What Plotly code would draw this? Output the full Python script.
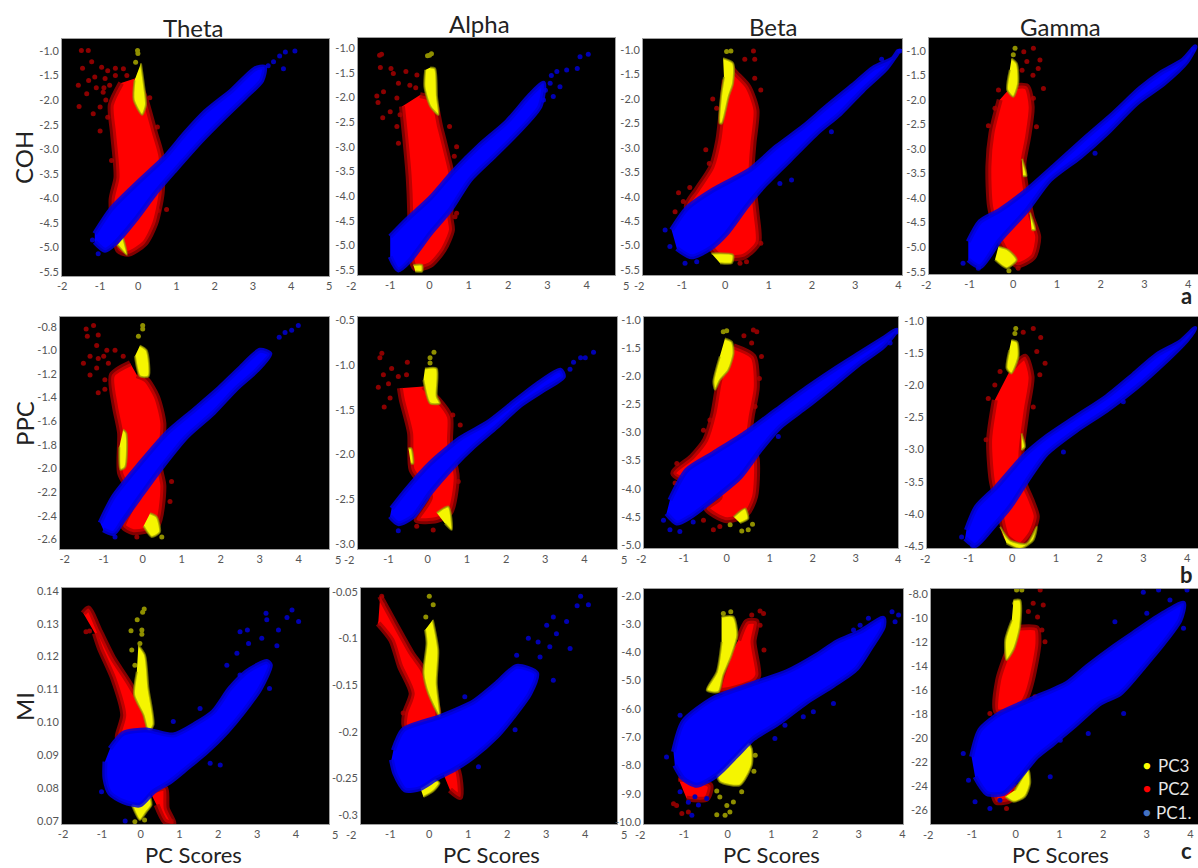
import plotly.graph_objects as go

# ---- Values: (PC score, measure) ----
N = (None, None)
COH_THETA_PC1 = [(-1.14,-4.72),(-.7,-4.21),(0,-3.67),(.7,-3.16),(1.22,-2.68),(1.75,-2.24),(2.45,-1.8),(3.06,-1.36),(3.3,-1.33),(3.23,-1.6),(2.8,-1.94),(2.27,-2.34),(1.66,-2.82),(.96,-3.43),(.44,-3.9),(-.09,-4.45),(-.61,-4.92),(-.87,-5.06),(-1.14,-4.89)]
COH_THETA_PC1_S = [(4.1,-1.0),(3.85,-1.02),(3.54,-1.22),(3.8,-1.36),(3.7,-1.1),(3.4,-1.3),(-1.05,-5.13),(-1.2,-4.85)]
COH_THETA_PC2 = [(-.05,-1.55),(.17,-1.94),(.44,-2.68),(.61,-3.16),(.61,-3.9),(.44,-4.52),(.17,-4.92),(-.26,-5.13),(-.52,-5.06),(-.7,-4.04),(-.57,-3.57),(-.66,-2.68),(-.72,-2.1),(-.45,-1.65)]
COH_THETA_PC2_S = [(-1.49,-.99),(-1.31,-.99),(-1.22,-1.22),(-1.46,-1.35),(-.96,-1.33),(-1.14,-1.53),(-.87,-1.56),(-1.57,-1.7),(-1.35,-1.87),(-.92,-1.84),(-1.55,-2.13),(-1.18,-2.28),(-1.0,-2.14),(-1.0,-2.63),(-.7,-3.23),(.74,-4.23),(.52,-4.25),(-.39,-1.36),(-.8,-1.4),(-.6,-1.35),(-1.1,-1.75),(-1.3,-1.6),(.3,-1.95),(.5,-2.55),(-.75,-1.7),(-.6,-1.5),(-.85,-2.0),(-.3,-1.5),(-.9,-1.75),(-.8,-2.35)]
COH_THETA_PC3 = [(.07,-1.25),(.15,-1.7),(.2,-2.1),(.1,-2.3),(-.12,-2.0),(-.1,-1.6),N,(-.55,-4.95),(-.3,-5.15),(-.4,-4.8)]
COH_THETA_PC3_S = [(-.02,-.99),(-.01,-1.05),(-.07,-1.23)]

COH_ALPHA_PC1 = [(-1.0,-4.82),(-.58,-4.48),(.02,-4.04),(.61,-3.5),(1.29,-2.96),(1.97,-2.49),(2.56,-1.95),(2.9,-1.71),(2.81,-2.18),(2.22,-2.73),(1.63,-3.2),(1.03,-3.67),(.53,-4.28),(.02,-4.76),(-.49,-5.3),(-.79,-5.5),(-1.0,-5.23)]
COH_ALPHA_PC1_S = [(4.04,-1.12),(3.83,-1.17),(3.76,-1.41),(3.49,-1.44),(3.24,-1.47),(3.32,-1.78),(3.07,-1.71),(3.15,-1.98),(2.9,-2.05),(3.1,-1.55),(2.95,-1.85)]
COH_ALPHA_PC2 = [(-.24,-1.95),(.1,-2.05),(.27,-2.59),(.44,-3.13),(.57,-3.6),(.53,-4.42),(.57,-4.69),(.36,-5.09),(.02,-5.4),(-.36,-5.47),(-.49,-5.16),(-.49,-4.35),(-.53,-3.6),(-.62,-2.79),(-.7,-2.18)]
COH_ALPHA_PC2_S = [(-1.27,-1.14),(-1.22,-1.12),(-1.25,-1.39),(-.98,-1.41),(-.92,-1.51),(-.6,-1.47),(-.79,-1.71),(-.32,-1.54),(-1.34,-1.97),(-1.17,-1.88),(-1.31,-2.1),(-1.19,-2.41),(-1,-2.29),(-.83,-2.01),(-.75,-2.35),(-.83,-2.59),(-.79,-2.93),(.51,-2.59),(.69,-3.0),(.63,-3.19),(.65,-4.42),(.69,-4.35),(-.5,-1.75),(-.35,-1.8)]
COH_ALPHA_PC3 = [(.02,-1.39),(.14,-1.41),(.19,-1.98),(.23,-2.35),(.02,-2.18),(-.13,-1.78),(-.11,-1.44),N,(-.41,-5.4),(-.19,-5.4),(-.19,-5.53),(-.36,-5.53)]
COH_ALPHA_PC3_S = [(0,-1.14),(.05,-1.11),(-.05,-1.15)]

COH_BETA_PC1 = [(-1.24,-4.68),(-.89,-4.24),(-.28,-3.86),(.57,-3.45),(1.18,-2.98),(1.8,-2.57),(2.34,-2.16),(2.95,-1.72),(3.42,-1.37),(3.88,-1.17),(3.99,-1.03),(3.72,-1.37),(3.18,-1.82),(2.65,-2.3),(2.11,-2.7),(1.49,-3.25),(.88,-3.79),(.49,-4.2),(.03,-4.75),(-.35,-5.06),(-.78,-5.23),(-1.12,-5.06)]
COH_BETA_PC1_S = [(4.03,-1.02),(3.61,-1.19),(-1.39,-4.68),(-1.28,-5.02),(-.93,-5.36),(-.66,-5.33),(1.53,-3.66),(1.26,-3.73),(2.45,-2.67)]
COH_BETA_PC2 = [(.11,-1.27),(.18,-1.41),(.53,-1.75),(.72,-2.23),(.65,-2.91),(.61,-3.45),(.72,-4.34),(.76,-4.95),(.42,-5.23),(-.12,-5.23),(-.35,-5.02),(-.89,-4.2),(-.66,-3.86),(-.32,-3.39),(-.16,-2.84),(-.08,-2.23),(-.01,-1.61)]
COH_BETA_PC2_S = [(.65,-1.02),(.45,-1.19),(.68,-1.19),(.68,-1.58),(.82,-1.82),(-.29,-2.0),(-.2,-2.19),(-.45,-3.04),(-.37,-3.32),(-1.08,-3.92),(-.82,-3.81),(-1.16,-4.31),(-.97,-4.1),(.49,-5.33),(.34,-5.36),(.82,-4.95)]
COH_BETA_PC3 = [(-.05,-1.17),(.18,-1.27),(.18,-1.68),(.08,-1.95),(-.08,-2.5),(-.13,-2.5),(-.1,-1.95),(-.03,-1.55),N,(-.32,-5.16),(.18,-5.19),(.15,-5.36),(-.12,-5.36)]
COH_BETA_PC3_S = [(.03,-1.03),(.13,-1.02)]

COH_GAMMA_PC1 = [(-1.03,-4.89),(-.76,-4.48),(-.31,-4.25),(.31,-3.84),(.92,-3.36),(1.68,-2.75),(2.29,-2.28),(2.9,-1.77),(3.36,-1.46),(3.89,-1.19),(4.16,-.92),(3.97,-1.22),(3.44,-1.67),(2.82,-2.07),(2.14,-2.68),(1.53,-3.16),(.84,-3.63),(.31,-4.25),(-.31,-4.86),(-.76,-5.4),(-1.03,-5.26)]
COH_GAMMA_PC1_S = [(4.12,-.97),(-.8,-5.43),(-1.15,-5.33),(1.87,-3.09)]
COH_GAMMA_PC2 = [(-.04,-1.73),(.31,-1.73),(.42,-2.14),(.34,-2.75),(.23,-3.3),(.27,-3.7),(.42,-4.38),(.57,-4.79),(.46,-5.2),(.08,-5.37),(-.31,-4.86),(-.53,-4.18),(-.57,-3.36),(-.5,-2.68),(-.31,-2.0)]
COH_GAMMA_PC2_S = [(.24,-1.02),(.46,-.95),(.61,-1.19),(.31,-1.22),(.57,-1.36),(.69,-1.77),(.46,-1.97),(.53,-2.55),(-.57,-2.53),(-.42,-2.17),(-.34,-1.8),(.11,-5.43),(.45,-1.5),(.2,-1.4)]
COH_GAMMA_PC3 = [(-.04,-1.16),(.08,-1.26),(.11,-1.67),(0,-1.94),(-.14,-1.8),(-.08,-1.39),N,(-.34,-4.99),(-.11,-5.06),(.08,-5.26),(-.15,-5.43),(-.42,-5.26),N,(.2,-3.2),(.3,-3.55),(.22,-3.55),N,(.38,-4.3),(.5,-4.65),(.42,-4.65)]
COH_GAMMA_PC3_S = [(.04,-.95),(.0,-1.08),(-.1,-5.48)]

PPC_THETA_PC1 = [(-1.09,-2.46),(-.75,-2.24),(-.07,-1.96),(.62,-1.7),(1.3,-1.51),(1.9,-1.34),(2.5,-1.15),(3.01,-1.0),(3.26,-1.03),(2.92,-1.17),(2.41,-1.32),(1.81,-1.53),(1.13,-1.73),(.44,-2.01),(-.07,-2.24),(-.5,-2.44),(-.75,-2.55),(-1.01,-2.52)]
PPC_THETA_PC1_S = [(3.99,-.79),(3.82,-.83),(3.5,-.89),(-.71,-2.58),(3.65,-.85)]
PPC_THETA_PC2 = [(-.15,-1.21),(.1,-1.25),(.36,-1.39),(.53,-1.62),(.44,-1.99),(.53,-2.15),(.36,-2.49),(-.24,-2.54),(-.5,-2.49),(-.24,-2.27),(-.58,-2.04),(-.58,-1.7),(-.71,-1.48),(-.79,-1.21),(-.32,-1.11)]
PPC_THETA_PC2_S = [(-1.45,-.82),(-1.26,-.79),(-1.42,-.88),(-1.14,-.87),(-1.18,-.96),(-1.52,-1.11),(-1.35,-1.05),(-1.14,-1.07),(-.92,-1),(-.71,-1),(-1.18,-1.15),(-1.35,-1.21),(-.88,-1.11),(-.97,-1.25),(-1.14,-1.36),(-.97,-1.33),(-.67,-1.41),(.7,-2.28),(.74,-2.11),(-.15,-2.58),(-.5,-1.05),(-1,-1.05)]
PPC_THETA_PC3 = [(-.07,-.96),(.1,-1),(.15,-1.22),(-.07,-1.22),(-.2,-1.05),N,(-.5,-1.67),(-.42,-1.7),(-.45,-1.99),(-.57,-2.01),(-.6,-1.82),N,(.19,-2.38),(.36,-2.41),(.44,-2.54),(.23,-2.58),(.02,-2.49)]
PPC_THETA_PC3_S = [(0,-.79),(0,-.82),(-.11,-.88),(.49,-2.58)]

PPC_ALPHA_PC1 = [(-.92,-2.6),(-.54,-2.39),(.06,-2.1),(.83,-1.82),(1.51,-1.65),(2.1,-1.45),(2.78,-1.22),(3.38,-1.06),(3.46,-1.13),(2.95,-1.28),(2.36,-1.45),(1.76,-1.69),(1.17,-1.91),(.66,-2.13),(.06,-2.43),(-.37,-2.69),(-.75,-2.77),(-.96,-2.69)]
PPC_ALPHA_PC1_S = [(4.23,-.86),(4.02,-.92),(3.72,-.97),(3.63,-1.05),(-.75,-2.85),(3.9,-.92)]
PPC_ALPHA_PC2 = [(-.11,-1.24),(.27,-1.39),(.57,-1.58),(.57,-1.87),(.74,-2.25),(.57,-2.65),(.23,-2.73),(-.28,-2.73),(.06,-2.47),(-.41,-2.17),(-.45,-1.76),(-.66,-1.39),(-.71,-1.26)]
PPC_ALPHA_PC2_S = [(-1.17,-.87),(-1.22,-.92),(-.52,-.97),(-.92,-1.04),(-1.13,-1.11),(-1,-1.21),(-.54,-1.11),(-1.26,-1.25),(-.96,-1.37),(-1.11,-1.47),(-.75,-1.13),(.64,-1.56),(.83,-1.67),(.78,-2.3),(-.28,-2.8),(.14,-2.84)]
PPC_ALPHA_PC3 = [(-.07,-1.04),(.23,-1.04),(.23,-1.35),(.31,-1.43),(.06,-1.43),(-.11,-1.17),N,(.23,-2.65),(.53,-2.58),(.61,-2.84),(.44,-2.77),N,(-.49,-1.93),(-.42,-1.93),(-.37,-2.1),(-.43,-2.1)]
PPC_ALPHA_PC3_S = [(.16,-.86),(.06,-.92),(.06,-.98)]

PPC_BETA_PC1 = [(-1.32,-4.2),(-.93,-3.67),(-.31,-3.37),(.47,-2.99),(1.16,-2.6),(1.86,-2.21),(2.48,-1.89),(3.1,-1.59),(3.64,-1.33),(3.95,-1.18),(3.64,-1.47),(3.1,-1.77),(2.48,-2.16),(1.86,-2.54),(1.24,-2.9),(.78,-3.31),(.31,-3.79),(-.23,-4.14),(-.85,-4.5),(-1.16,-4.61),(-1.4,-4.44)]
PPC_BETA_PC1_S = [(-1.47,-4.56),(-1.32,-4.73),(-1.09,-4.76),(3.95,-1.21),(3.8,-1.41),(1.2,-3.07),(-.78,-4.59)]
PPC_BETA_PC2 = [(.16,-1.47),(.62,-1.65),(.7,-2.19),(.58,-2.72),(.54,-3.01),(.7,-3.49),(.66,-4.14),(.47,-4.44),(0,-4.56),(-.47,-4.35),(-.16,-4.14),(-1.24,-3.73),(-.81,-3.43),(-.5,-3.13),(-.31,-2.66),(-.19,-2.13),(-.04,-1.65)]
PPC_BETA_PC2_S = [(.62,-1.18),(.7,-1.21),(.4,-1.28),(.58,-1.41),(.81,-1.65),(.76,-2.04),(.66,-2.54),(-1.16,-3.55),(-1.05,-3.67),(-1.2,-3.9),(-.54,-2.96),(-.39,-2.78),(-.31,-4.73),(-.54,-4.56),(-.16,-4.67)]
PPC_BETA_PC3 = [(-.04,-1.33),(.12,-1.39),(.16,-1.59),(.04,-1.89),(-.16,-2.07),(-.27,-2.24),(-.31,-2.1),(-.16,-1.65),N,(.16,-4.5),(.43,-4.35),(.5,-4.53),(.31,-4.61)]
PPC_BETA_PC3_S = [(0,-1.19),(-.08,-1.21),(.08,-4.64),(.35,-4.75),(.6,-4.63),(.5,-4.73)]

PPC_GAMMA_PC1 = [(-1.05,-4.25),(-.82,-3.89),(-.36,-3.58),(.25,-3.11),(.79,-2.8),(1.47,-2.49),(2.16,-2.18),(2.77,-1.84),(3.31,-1.53),(3.84,-1.33),(4.18,-1.12),(3.99,-1.3),(3.46,-1.66),(2.85,-2.03),(2.16,-2.39),(1.47,-2.7),(.79,-3.06),(.4,-3.42),(-.05,-3.89),(-.44,-4.2),(-.85,-4.49),(-1.08,-4.38)]
PPC_GAMMA_PC1_S = [(-.91,-4.49),(-1.16,-4.36),(1.17,-3.04),(2.54,-2.26)]
PPC_GAMMA_PC2 = [(-.05,-1.77),(.29,-1.56),(.44,-1.87),(.33,-2.39),(.21,-3.06),(.25,-3.48),(.44,-3.79),(.56,-4.04),(.44,-4.3),(.18,-4.49),(-.13,-4.36),(-.28,-3.99),(-.47,-3.48),(-.53,-2.85),(-.4,-2.23)]
PPC_GAMMA_PC2_S = [(.25,-1.18),(.48,-1.12),(.65,-1.26),(.56,-1.48),(.75,-1.66),(.63,-1.84),(.48,-2.34),(-.55,-2.21),(-.28,-1.79),(-.4,-2),(.21,-4.54),(-.6,-2.85)]
PPC_GAMMA_PC3 = [(-.02,-1.3),(.11,-1.33),(.14,-1.56),(-.02,-1.82),(-.13,-1.74),(-.07,-1.46),N,(-.28,-4.2),(-.05,-4.41),(.33,-4.46),(.56,-4.2),(.48,-4.41),(.18,-4.54),(-.13,-4.46),N,(.21,-2.75),(.29,-2.96),(.21,-3.01)]
PPC_GAMMA_PC3_S = [(.08,-1.12),(.06,-1.2)]

MI_THETA_PC1 = [(-.79,.092),(-.45,.0966),(.15,.0976),(.84,.0961),(1.44,.0997),(1.87,.1032),(2.3,.1103),(2.73,.1154),(3.25,.1185),(3.34,.1174),(3.08,.1103),(2.65,.1032),(2.22,.0971),(1.7,.091),(1.19,.086),(.76,.0819),(.33,.0788),(-.02,.0748),(-.45,.0758),(-.79,.0783),(-.92,.0829),(-.92,.088)]
MI_THETA_PC1_S = [(3.9,.1342),(3.77,.1319),(4.07,.1307),(3.23,.1332),(3.25,.1312),(3.55,.1281),(3.12,.1256),(3.51,.1233),(2.75,.1281),(2.56,.1276),(2.78,.124),(2.48,.121),(2.22,.1174),(2.56,.1144),(3.32,.1103),(2.05,.087),(1.79,.0875),(1.27,.0971),(1.53,.1042),(-.4,.0699),(-1.01,.0788),(.84,.1002)]
MI_THETA_PC2 = [(-1.48,.1332),(-1.35,.1347),(-1.05,.1276),(-.71,.1195),(-.32,.1124),(.24,.1002),(.2,.0971),(-.58,.0951),(-.45,.1022),(-.71,.1134),(-1.05,.1225),(-1.18,.1271),N,(.24,.0788),(.63,.0799),(.67,.0738),(.84,.0692),(.63,.0697),(.41,.0748)]
MI_THETA_PC2_S = [(-1.32,.1278),(-1.41,.1276),(.8,.0698)]
MI_THETA_PC3 = [(-.06,.1235),(.11,.1205),(.2,.1103),(.33,.0992),(.2,.0971),(.07,.1022),(-.17,.1083),(-.1,.1154),N,(-.02,.0778),(.2,.0783),(.28,.0748),(.15,.0727),(-.02,.0702),(-.23,.0748)]
MI_THETA_PC3_S = [(.09,.1345),(-.09,.1312),(-.25,.1279),(.03,.1281),(-.02,.124),(-.23,.122),(-.15,.1174),(-.15,.0697),(.1,.0702),(.05,.1335),(.03,.1268)]

MI_ALPHA_PC1 = [(-.92,-.22),(-.67,-.198),(.27,-.184),(1.13,-.168),(1.73,-.148),(2.24,-.13),(2.75,-.1375),(2.58,-.159),(2.15,-.184),(1.73,-.205),(1.13,-.227),(.62,-.241),(.19,-.25),(-.24,-.261),(-.62,-.2625),(-.88,-.245),(-.97,-.23)]
MI_ALPHA_PC1_S = [(3.88,-.055),(3.79,-.065),(4.08,-.064),(3.18,-.077),(3.01,-.086),(3.52,-.082),(3.26,-.095),(3.61,-.111),(2.54,-.1),(2.79,-.104),(3.18,-.145),(2.24,-.118),(2.84,-.12),(3.09,-.109),(2.2,-.198),(1.26,-.2375),(.91,-.1625)]
MI_ALPHA_PC2 = [(-1.26,-.055),(-.88,-.084),(-.45,-.116),(-.15,-.134),(.23,-.179),(.19,-.1875),(-.62,-.195),(-.62,-.18),(-.45,-.159),(-.75,-.13),(-.97,-.102),(-1.31,-.084),N,(.32,-.241),(.7,-.239),(.79,-.27),(.53,-.2625)]
MI_ALPHA_PC2_S = [(-1.22,-.055),(-1.2,-.064),(-1.26,-.084),(-.67,-.18)]
MI_ALPHA_PC3 = [(.09,-.08),(.23,-.1125),(.19,-.148),(.27,-.184),(-.03,-.159),(-.15,-.1375),(-.07,-.105),(-.11,-.091),N,(-.24,-.259),(.06,-.25),(.26,-.255),(.1,-.264),(-.15,-.27)]
MI_ALPHA_PC3_S = [(0,-.055),(.1,-.064),(-.09,-.077)]

MI_BETA_PC1 = [(-1.24,-7.52),(-1.02,-6.46),(-.33,-5.63),(.59,-5.1),(1.35,-4.69),(2.04,-4.1),(2.5,-3.63),(3.03,-3.27),(3.56,-2.8),(3.56,-3.1),(3.26,-3.86),(2.95,-4.57),(2.42,-5.16),(1.81,-5.75),(1.2,-6.46),(.59,-7.05),(.21,-7.64),(-.25,-8.34),(-.71,-8.7),(-1.02,-8.46),(-1.21,-7.99)]
MI_BETA_PC1_S = [(3.76,-2.57),(3.91,-2.68),(3.83,-2.92),(3.22,-2.8),(3.03,-3.04),(2.88,-3.21),(2.42,-5.81),(1.96,-6.1),(1.73,-6.28),(1.31,-6.58),(1.08,-7.05),(-1.4,-7.7),(-1.09,-6.22),(-1.09,-8.93),(-.67,-9.4),(-.82,-9.76),(-.48,-9.17),(-.9,-9.3),(-.75,-9.1)]
MI_BETA_PC2 = [(.24,-3.57),(.44,-2.92),(.66,-2.92),(.59,-3.63),(.7,-4.81),(.59,-5.04),(-.18,-5.34),(-.02,-4.33),N,(-1.13,-8.46),(-.4,-8.7),(-.48,-9.17),(-.94,-9.17)]
MI_BETA_PC2_S = [(.74,-2.54),(.82,-2.63),(.55,-2.68),(.74,-3.04),(.83,-3.92),(-1.17,-9.41),(-1.05,-9.7),(-.9,-9.64),(-1.24,-9.35)]
MI_BETA_PC3 = [(-.14,-2.74),(.13,-2.74),(.22,-3.39),(.09,-4.1),(-.1,-4.81),(-.21,-5.4),(-.48,-5.34),(-.25,-4.69),(-.14,-3.63),N,(.13,-7.58),(.44,-7.17),(.55,-7.4),(.55,-7.99),(.28,-8.7),(-.18,-8.58),(-.25,-8.34)]
MI_BETA_PC3_S = [(.07,-2.57),(-.1,-2.63),(.63,-7.64),(-.18,-9.11),(-.02,-9.41),(.05,-9.64),(-.25,-9.74),(-.06,-9.76),(.32,-8.93),(.13,-9.29),(-.25,-8.9),(.6,-8.2)]

MI_GAMMA_PC1 = [(-1.01,-21.56),(-.82,-19.33),(-.36,-17.94),(.4,-16.69),(1.17,-15.43),(1.63,-14.04),(2.24,-12.37),(2.69,-11.25),(3.38,-9.58),(3.84,-8.75),(3.76,-10.14),(3.38,-12.09),(3,-13.76),(2.39,-16.27),(1.93,-17.1),(1.32,-19.05),(.86,-20.45),(.48,-21.56),(.1,-23.23),(-.28,-24.62),(-.66,-24.62),(-.93,-23.23)]
MI_GAMMA_PC1_S = [(2.92,-7.83),(3.27,-7.63),(3.92,-7.63),(3.53,-8.47),(3,-9.58),(2.27,-10.28),(3.84,-10.84),(3.15,-10.7),(2.47,-17.94),(1.66,-19.61),(-1.2,-21.28),(-1.08,-23.51),(-.93,-25.32),(-.59,-25.88),(-.36,-25.18),(.79,-23.23),(1.02,-20.17)]
MI_GAMMA_PC2 = [(-.05,-10.84),(.48,-10.84),(.52,-12.09),(.37,-15.15),(.25,-16.55),(.1,-17.38),(-.44,-17.8),(-.4,-15.15),(-.17,-12.65),N,(.02,-23.23),(-.28,-23.79),(-.02,-24.07),(-.13,-25.18),(-.44,-25.32),(-.51,-24.62)]
MI_GAMMA_PC2_S = [(.56,-7.63),(.4,-8.75),(.63,-8.89),(.29,-9.44),(.6,-10.98),(.67,-11.95),(-.21,-25.88),(-.59,-17.94),(.44,-16.55),(.5,-9.9)]
MI_GAMMA_PC3 = [(-.05,-8.47),(.1,-8.47),(.1,-10.7),(-.05,-12.65),(-.21,-13.48),(-.24,-11.81),(-.09,-10.14),N,(-.02,-24.35),(.29,-22.67),(.33,-23.79),(.21,-24.9),(-.05,-25.32),(-.24,-24.9)]
MI_GAMMA_PC3_S = [(.02,-7.63),(.14,-7.63),(-.02,-8.75)]

BANDS = ["Theta", "Alpha", "Beta", "Gamma"]
MEASURES = ["COH", "PPC", "MI"]
LEGEND_NAMES = ["PC3", "PC2", "PC1."]
X_TICKS = [-2, -1, 0, 1, 2, 3, 4, 5]
Y_TICKS_COH = [-1.0, -1.5, -2.0, -2.5, -3.0, -3.5, -4.0, -4.5, -5.0, -5.5]
Y_TICKS_PPC_THETA = [-.8, -1.0, -1.2, -1.4, -1.6, -1.8, -2.0, -2.2, -2.4, -2.6]
Y_TICKS_PPC_ALPHA = [-.5, -1.0, -1.5, -2.0, -2.5, -3.0]
Y_TICKS_PPC_BETA = [-1.0, -1.5, -2.0, -2.5, -3.0, -3.5, -4.0, -4.5, -5.0]
Y_TICKS_PPC_GAMMA = [-1.0, -1.5, -2.0, -2.5, -3.0, -3.5, -4.0, -4.5]
Y_TICKS_MI_THETA = [.14, .13, .12, .11, .10, .09, .08, .07]
Y_TICKS_MI_ALPHA = [-.05, -.1, -.15, -.2, -.25, -.29]
Y_TEXT_MI_ALPHA = ["-0.05", "-0.1", "-0.15", "-0.2", "-0.25", "-0.3"]
Y_TICKS_MI_BETA = [-2.0, -3.0, -4.0, -5.0, -6.0, -7.0, -8.0, -9.0, -10.0]
Y_TICKS_MI_GAMMA = [-8, -10, -12, -14, -16, -18, -20, -22, -24, -26]
Y_TEXT_MI_GAMMA = ["-8.0", "-10", "-12", "-14", "-16", "-18", "-20", "-22", "-24", "-26"]

# ---- Layout: frame in pixels, and the pixel where the axis calibration lies ----
W, H = 1198, 868
FONT = "Lato"
#        frame l, r, t, b, x0px, xscale, yval, ypx, yscale, data
PANELS = [
 (62, 329, 39, 276, 138.3, 38.2, -1.0, 51, 49.1, (COH_THETA_PC1, COH_THETA_PC1_S, COH_THETA_PC2, COH_THETA_PC2_S, COH_THETA_PC3, COH_THETA_PC3_S), Y_TICKS_COH, "%.1f"),
 (358, 615, 38, 275, 429.5, 39.3, -1.0, 48.3, 49.26, (COH_ALPHA_PC1, COH_ALPHA_PC1_S, COH_ALPHA_PC2, COH_ALPHA_PC2_S, COH_ALPHA_PC3, COH_ALPHA_PC3_S), Y_TICKS_COH, "%.1f"),
 (643, 902, 39, 275, 725.3, 43.3, -1.0, 50, 48.9, (COH_BETA_PC1, COH_BETA_PC1_S, COH_BETA_PC2, COH_BETA_PC2_S, COH_BETA_PC3, COH_BETA_PC3_S), Y_TICKS_COH, "%.1f"),
 (929, 1198, 38, 274, 1013.3, 43.7, -1.0, 50.7, 49.1, (COH_GAMMA_PC1, COH_GAMMA_PC1_S, COH_GAMMA_PC2, COH_GAMMA_PC2_S, COH_GAMMA_PC3, COH_GAMMA_PC3_S), Y_TICKS_COH, "%.1f"),
 (60, 329, 317, 549, 142.7, 39.0, -.8, 326.7, 118.1, (PPC_THETA_PC1, PPC_THETA_PC1_S, PPC_THETA_PC2, PPC_THETA_PC2_S, PPC_THETA_PC3, PPC_THETA_PC3_S), Y_TICKS_PPC_THETA, "%.1f"),
 (358, 617, 317, 549, 427.7, 39.2, -.5, 320, 89.7, (PPC_ALPHA_PC1, PPC_ALPHA_PC1_S, PPC_ALPHA_PC2, PPC_ALPHA_PC2_S, PPC_ALPHA_PC3, PPC_ALPHA_PC3_S), Y_TICKS_PPC_ALPHA, "%.1f"),
 (644, 898, 317, 548, 726.7, 43.0, -1.0, 320, 56.25, (PPC_BETA_PC1, PPC_BETA_PC1_S, PPC_BETA_PC2, PPC_BETA_PC2_S, PPC_BETA_PC3, PPC_BETA_PC3_S), Y_TICKS_PPC_BETA, "%.1f"),
 (927, 1198, 317, 548, 1012.3, 43.7, -1.0, 320.7, 64.4, (PPC_GAMMA_PC1, PPC_GAMMA_PC1_S, PPC_GAMMA_PC2, PPC_GAMMA_PC2_S, PPC_GAMMA_PC3, PPC_GAMMA_PC3_S), Y_TICKS_PPC_GAMMA, "%.1f"),
 (62, 329, 588, 824, 140.7, 38.8, .14, 591, 3281, (MI_THETA_PC1, MI_THETA_PC1_S, MI_THETA_PC2, MI_THETA_PC2_S, MI_THETA_PC3, MI_THETA_PC3_S), Y_TICKS_MI_THETA, "%.2f"),
 (361, 617, 588, 824, 429.3, 39.0, -.05, 591.7, 933, (MI_ALPHA_PC1, MI_ALPHA_PC1_S, MI_ALPHA_PC2, MI_ALPHA_PC2_S, MI_ALPHA_PC3, MI_ALPHA_PC3_S), Y_TICKS_MI_ALPHA, Y_TEXT_MI_ALPHA),
 (644, 903, 589, 824, 727.7, 43.7, -2.0, 595.7, 28.3, (MI_BETA_PC1, MI_BETA_PC1_S, MI_BETA_PC2, MI_BETA_PC2_S, MI_BETA_PC3, MI_BETA_PC3_S), Y_TICKS_MI_BETA, "%.1f"),
 (931, 1198, 589, 824, 1015.7, 43.7, -10, 618.3, 11.98, (MI_GAMMA_PC1, MI_GAMMA_PC1_S, MI_GAMMA_PC2, MI_GAMMA_PC2_S, MI_GAMMA_PC3, MI_GAMMA_PC3_S), Y_TICKS_MI_GAMMA, Y_TEXT_MI_GAMMA),
]
STYLES = [  # drawn order: PC2, PC3, PC1  (series index, fill, edge, edge width, dot)
 (2, "#ff0000", "rgba(170,0,0,0.75)", 6, "#8c0000"),
 (4, "#f5f500", "rgba(150,150,0,0.7)", 2, "#8f8f00"),
 (0, "#0000ff", "rgba(0,0,225,0.85)", 5, "#0000b4"),
]

fig = go.Figure()
layout = {}
annotations = []

def label(text, px, py, size, angle=0, bold=False, color="#222"):
    annotations.append(dict(x=px / W, y=1 - py / H, xref="paper", yref="paper", xanchor="center", yanchor="middle",
                            text=f"<b>{text}</b>" if bold else text, showarrow=False, textangle=angle,
                            font=dict(family=FONT, size=size, color=color)))

for i, (l, r, t, b, x0, xs, yv, yp, ys, series, yticks, yfmt) in enumerate(PANELS):
    suffix = "" if i == 0 else str(i + 1)
    xr = [(l - x0) / xs, (r - x0) / xs]
    yr = [yv - (b - yp) / ys, yv + (yp - t) / ys]
    in_x = [v for v in X_TICKS if xr[0] <= v <= xr[1]]
    for v in X_TICKS:
        if v not in in_x and x0 + v * xs < r + 12 and x0 + v * xs > l - 14:
            label(str(v), x0 + v * xs, b + 10, 11, color="#555")
    ytext = yfmt if isinstance(yfmt, list) else [yfmt % v for v in yticks]
    layout["xaxis" + suffix] = dict(domain=[l / W, r / W], range=xr, anchor="y" + suffix, showgrid=False, zeroline=False,
                                    tickvals=in_x, ticktext=[str(v) for v in in_x], ticks="", showline=True, mirror=True,
                                    linecolor="#a0a0a0", linewidth=1, tickfont=dict(family=FONT, size=11, color="#555"))
    layout["yaxis" + suffix] = dict(domain=[1 - b / H, 1 - t / H], range=yr, anchor="x" + suffix, showgrid=False, zeroline=False,
                                    tickvals=yticks, ticktext=ytext, ticks="", showline=True, mirror=True,
                                    linecolor="#a0a0a0", linewidth=1, tickfont=dict(family=FONT, size=11, color="#555"))
    for idx, fill, edge, width, dot in STYLES:
        outline, sparse = series[idx], series[idx + 1]
        fig.add_trace(go.Scatter(x=[p[0] for p in sparse], y=[p[1] for p in sparse], mode="markers", showlegend=False,
                                 hoverinfo="skip", xaxis="x" + suffix, yaxis="y" + suffix,
                                 marker=dict(size=5, color=dot, line=dict(width=0))))
        fig.add_trace(go.Scatter(x=[p[0] for p in outline], y=[p[1] for p in outline], mode="lines", fill="toself",
                                 fillcolor=fill, line=dict(color=edge, width=width, shape="spline", smoothing=0.7),
                                 showlegend=False, hoverinfo="skip", xaxis="x" + suffix, yaxis="y" + suffix))

for name, color, py in zip(LEGEND_NAMES, ["#ffff00", "#ff0000", "#4472c4"], [765, 788, 812]):
    label("●", 1147, py, 13, color=color)
    label(name, 1173, py, 17, color="#e6e6e6")

for name, px, py in zip(BANDS, [193, 479, 773, 1060], [27, 23, 26, 26]):
    label(name, px, py, 24)
for name, py in zip(MEASURES, [158, 424, 707]):
    label(name, 24, py, 24, angle=-90)
for px in [193, 491, 771, 1060]:
    label("PC Scores", px, 854, 22)
for name, py in zip(["a", "b", "c"], [295, 574, 850]):
    label(name, 1186, py, 22, bold=True)

fig.update_layout(width=W, height=H, margin=dict(l=0, r=0, t=0, b=0, autoexpand=False), paper_bgcolor="white", plot_bgcolor="black",
                  annotations=annotations, showlegend=False, **layout)
fig.write_html("out.html", config={"displayModeBar": False},
               post_script="document.body.style.margin='0';document.body.style.overflow='hidden';")
